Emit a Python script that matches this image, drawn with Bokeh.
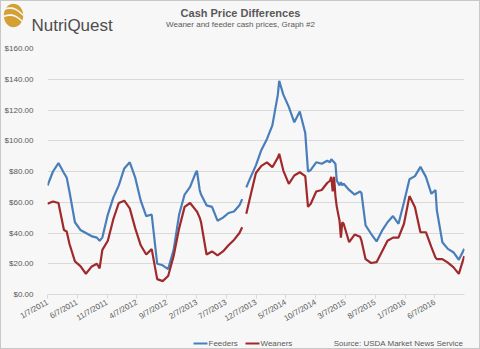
import numpy as np
import pandas as pd
from bokeh.plotting import figure
from bokeh.layouts import column
from bokeh.models import Range1d, FixedTicker, NumeralTickFormatter, ColumnDataSource
from bokeh.core.properties import value
from bokeh.embed import file_html
from bokeh.resources import INLINE

# ---------------- data ----------------
start_date = "2011-01-07"
week = [0, 4, 8, 12, 14, 16, 20, 24, 28, 32, 36, 38, 40, 44, 48, 52, 56, 60, 64, 68, 72, 76,
        80, 84, 88, 92, 96, 100, 104, 108, 109, 111, 112, 116, 120, 124, 128, 132, 136, 140,
        142, 143, 145, 148, 152, 156, 160, 164, 168, 169, 172, 176, 180, 184, 188, 190, 192,
        196, 200, 204, 206, 207, 208, 209, 210, 211, 213, 214, 215, 216, 220, 224, 228, 229,
        232, 236, 240, 244, 248, 252, 256, 260, 264, 268, 272, 276, 280, 283, 284, 288, 292,
        296, 300, 304]
feeders = [70.9, 80, 85.5, 79, 76, 67, 47, 42, 40, 38, 37, 35, 37, 52, 63, 71, 82, 86, 76, 61,
           51, 52, 20, 19, 16.5, 29, 52, 65, 70, 79, 80.5, 68, 65, 58, 57, 48, 50, 53, 54, 58,
           62, np.nan, 69.7, 76, 84, 94, 101, 110, 130, 139, 130, 122, 112, 119, 105, 80, 81,
           86, 85, 87, 86, 88, 87, 86, 85, 74, 71, 73, 71, 72, 68, 65, 67, 66,
           45, 39.5, 34.5, 41.5, 47, 51, 46, 60, 75, 77, 83, 76.5, 65.5, 68, 54.6, 34, 29.7,
           27.5, 22.6, 29.7]
weaners = [59, 60.5, 59.5, 42, 41, 33, 21.5, 18.5, 13.5, 18, 20, 17, 29, 35, 49, 59.5, 61, 56,
           43, 32, 26, 29.5, 10, 8.7, 12, 25, 43, 57, 59.5, 55, 54, 50, 47, 26, 28, 25.5, 28,
           32, 35.5, 40, 43.7, np.nan, 52.5, 64, 79, 83.7, 85.9, 82.8, 89, 91.5, 80.6, 72,
           77.4, 79.5, 77, 57, 59, 67, 68, 72.5, 74, 76.5, 67, 76.5, 64, 57, 48, 37, 47, 46,
           34, 39, 37.5, 35, 23, 20.5, 21, 28, 35, 37, 37, 46, 64, 56.8, 40.5, 40.5, 30.8, 24,
           23, 23, 20.7, 17.8, 13.4, 25]
tick_labels = ["1/7/2011", "6/7/2011", "11/7/2011", "4/7/2012", "9/7/2012", "2/7/2013",
               "7/7/2013", "12/7/2013", "5/7/2014", "10/7/2014", "3/7/2015", "8/7/2015",
               "1/7/2016", "6/7/2016"]
y_ticks = [0, 20, 40, 60, 80, 100, 120, 140, 160]
series_names = ["Feeders", "Weaners"]
title_text = "Cash Price Differences"
subtitle_text = "Weaner and feeder cash prices, Graph #2"
source_text = "Source: USDA Market News Service"
logo_text = "NutriQuest"

# ---------------- style ----------------
BG = "#f7f7f7"
TXT = "#595959"
GRID = "#d9d9d9"
BLUE = "#4a7ebb"
RED = "#a0292b"
GOLD = "#d4a033"
FONT = "Liberation Sans"
W = 478


def no_align(f):
    if "frame_align" in f.properties():
        f.frame_align = False


def blank(h):
    f = figure(width=W, height=h, output_backend="svg", toolbar_location=None,
               x_range=Range1d(0, W), y_range=Range1d(0, h),
               x_axis_location=None, y_axis_location=None,
               min_border=0, min_border_left=0, min_border_right=0,
               min_border_top=0, min_border_bottom=0)
    f.grid.grid_line_color = None
    f.outline_line_color = None
    f.background_fill_color = BG
    f.border_fill_color = BG
    no_align(f)
    return f


hx = lambda ix: ix - 1          # image column -> canvas x

# ---------------- header ----------------
HH = 40
hdr = blank(HH)
hy = lambda iy: HH + 1 - iy     # image row -> header data y
hdr.text(x=[hx(240)], y=[hy(12.5)], text=[title_text], text_align="center",
         text_baseline="middle", text_font=value(FONT), text_font_size="11px",
         text_font_style="bold", text_color=TXT)
hdr.text(x=[hx(240)], y=[hy(23.5)], text=[subtitle_text], text_align="center",
         text_baseline="middle", text_font=value(FONT), text_font_size="8px",
         text_color=TXT)
hdr.text(x=[hx(31)], y=[hy(24.5)], text=[logo_text], text_align="left",
         text_baseline="alphabetic", text_font=value(FONT), text_font_size="17px",
         text_color="#4d4d4d")
th = np.linspace(0, 2 * np.pi, 40)
hdr.patch(x=[hx(13 + 9.7 * np.cos(a)) for a in th], y=[hy(15 + 11.7 * np.sin(a)) for a in th],
          fill_color=GOLD, line_color=None)
t = np.linspace(0, 1, 12)
for (x0, y0, x1, y1, bend) in [(3, 9, 23, 15, -4), (3, 16, 23, 22, -4)]:
    cx = x0 + (x1 - x0) * t
    cy = y0 + (y1 - y0) * t + bend * np.sin(np.pi * t)
    xs = list(cx) + list(cx[::-1])
    ys = list(cy - 0.9) + list((cy + 0.9)[::-1])
    hdr.patch(x=[hx(v) for v in xs], y=[hy(v) for v in ys], fill_color=BG, line_color=None)

# ---------------- main chart ----------------
start = pd.Timestamp(start_date)
dates = start + pd.to_timedelta(np.array(week) * 7, unit="D")
src = ColumnDataSource(dict(x=dates, f=feeders, w=weaners))
tick_dt = pd.to_datetime(tick_labels, format="%m/%d/%Y")
tick_ms = [float(tt.value // 10**6) for tt in tick_dt]

MH = 293
p = figure(width=W, height=MH, x_axis_type="datetime", output_backend="svg",
           toolbar_location=None, title=None,
           x_range=Range1d(start, start + pd.Timedelta(days=2129)),
           y_range=Range1d(0, 160),
           min_border_left=40, min_border_right=15, min_border_top=7, min_border_bottom=40)
no_align(p)
p.background_fill_color = BG
p.border_fill_color = BG
p.outline_line_color = None
p.xgrid.grid_line_color = None
p.ygrid.grid_line_color = GRID
p.ygrid.ticker = FixedTicker(ticks=y_ticks)

ya = p.yaxis[0]
ya.ticker = FixedTicker(ticks=y_ticks)
ya.formatter = NumeralTickFormatter(format="$0,0.00")
ya.axis_line_color = None
ya.major_tick_line_color = None
ya.minor_tick_line_color = None
ya.major_label_standoff = 8
ya.major_label_text_font = FONT
ya.major_label_text_font_size = "8px"
ya.major_label_text_color = TXT

xa = p.xaxis[0]
xa.ticker = FixedTicker(ticks=tick_ms)
xa.major_label_overrides = {tt: lab for tt, lab in zip(tick_ms, tick_labels)}
xa.major_label_orientation = 0.52
xa.axis_line_color = GRID
xa.major_tick_line_color = GRID
xa.major_tick_in = 0
xa.major_tick_out = 4
xa.minor_tick_line_color = None
xa.major_label_standoff = 3
xa.major_label_text_font = FONT
xa.major_label_text_font_size = "8px"
xa.major_label_text_color = TXT

p.line("x", "f", source=src, line_color=BLUE, line_width=2.2)
p.line("x", "w", source=src, line_color=RED, line_width=2.2)

# ---------------- footer (legend + source) ----------------
FH = 14
ftr = blank(FH)
fy = lambda iy: FH + 334 - iy
leg_x = [193, 245]
ftr.segment(x0=[hx(v) for v in leg_x], y0=[fy(343)] * 2,
            x1=[hx(v + 14) for v in leg_x], y1=[fy(343)] * 2,
            line_color=[BLUE, RED], line_width=2.2)
ftr.text(x=[hx(v + 15) for v in leg_x], y=[fy(343)] * 2, text=series_names,
         text_align="left", text_baseline="middle", text_font=value(FONT),
         text_font_size="8px", text_color=TXT)
ftr.text(x=[hx(463)], y=[fy(343)], text=[source_text], text_align="right",
         text_baseline="middle", text_font=value(FONT), text_font_size="8px",
         text_color=TXT)

page = column(hdr, p, ftr, spacing=0, styles={"border": "1px solid #c8c8c8",
                                              "background-color": BG})

open("out.html", "w").write(file_html(page, INLINE))
